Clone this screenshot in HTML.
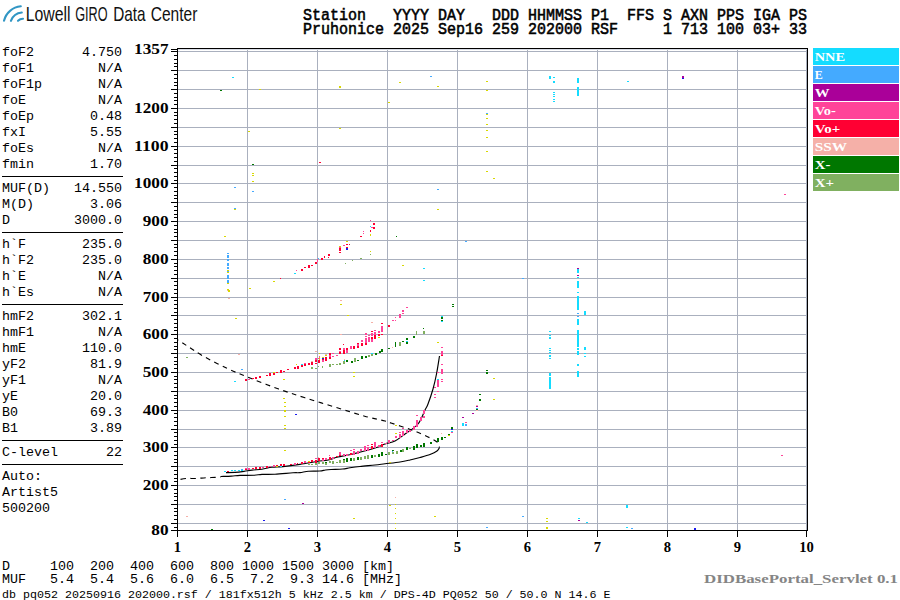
<!DOCTYPE html><html><head><meta charset="utf-8"><style>html,body{margin:0;padding:0;background:#fff;width:900px;height:600px;overflow:hidden}svg{display:block}</style></head><body>
<svg width="900" height="600" viewBox="0 0 900 600" shape-rendering="crispEdges">
<rect x="0" y="0" width="900" height="600" fill="#fff"/>
<g fill="none" stroke="#3196c4" stroke-width="2.1" stroke-linecap="round" shape-rendering="geometricPrecision"><path d="M4,20.8 A19,19 0 0 1 20.8,6.3"/><path d="M10.9,20.8 A13,13 0 0 1 21.8,12.5"/><path d="M18,20.8 A7,7 0 0 1 23,18.8"/></g>
<g font-family="Liberation Sans" font-size="19.8" fill="#111">
<text x="25.7" y="21.2" textLength="44.9" lengthAdjust="spacingAndGlyphs">Lowell</text>
<text x="75.2" y="21.2" textLength="32.4" lengthAdjust="spacingAndGlyphs">GIRO</text>
<text x="113.2" y="21.2" textLength="32.4" lengthAdjust="spacingAndGlyphs">Data</text>
<text x="150.7" y="21.2" textLength="46.7" lengthAdjust="spacingAndGlyphs">Center</text>
</g>
<g font-family="Liberation Mono" font-size="16.3" fill="#000" stroke="#000" stroke-width="0.55">
<text x="303" y="19.6" textLength="504" lengthAdjust="spacingAndGlyphs">Station&#160;&#160;&#160;YYYY&#160;DAY&#160;&#160;&#160;DDD&#160;HHMMSS&#160;P1&#160;&#160;FFS&#160;S&#160;AXN&#160;PPS&#160;IGA&#160;PS</text>
<text x="303" y="33.8" textLength="504" lengthAdjust="spacingAndGlyphs">Pruhonice&#160;2025&#160;Sep16&#160;259&#160;202000&#160;RSF&#160;&#160;&#160;&#160;&#160;1&#160;713&#160;100&#160;03+&#160;33</text>
</g>
<g font-family="Liberation Mono" font-size="13.33" fill="#000" style="white-space:pre">
<text x="2" y="56">foF2</text><text x="122" y="56" text-anchor="end">4.750</text>
<text x="2" y="72">foF1</text><text x="122" y="72" text-anchor="end">N/A</text>
<text x="2" y="88">foF1p</text><text x="122" y="88" text-anchor="end">N/A</text>
<text x="2" y="104">foE</text><text x="122" y="104" text-anchor="end">N/A</text>
<text x="2" y="120">foEp</text><text x="122" y="120" text-anchor="end">0.48</text>
<text x="2" y="136">fxI</text><text x="122" y="136" text-anchor="end">5.55</text>
<text x="2" y="152">foEs</text><text x="122" y="152" text-anchor="end">N/A</text>
<text x="2" y="168">fmin</text><text x="122" y="168" text-anchor="end">1.70</text>
<text x="2" y="192">MUF(D)</text><text x="122" y="192" text-anchor="end">14.550</text>
<text x="2" y="208">M(D)</text><text x="122" y="208" text-anchor="end">3.06</text>
<text x="2" y="224">D</text><text x="122" y="224" text-anchor="end">3000.0</text>
<text x="2" y="248">h`F</text><text x="122" y="248" text-anchor="end">235.0</text>
<text x="2" y="264">h`F2</text><text x="122" y="264" text-anchor="end">235.0</text>
<text x="2" y="280">h`E</text><text x="122" y="280" text-anchor="end">N/A</text>
<text x="2" y="296">h`Es</text><text x="122" y="296" text-anchor="end">N/A</text>
<text x="2" y="320">hmF2</text><text x="122" y="320" text-anchor="end">302.1</text>
<text x="2" y="336">hmF1</text><text x="122" y="336" text-anchor="end">N/A</text>
<text x="2" y="352">hmE</text><text x="122" y="352" text-anchor="end">110.0</text>
<text x="2" y="368">yF2</text><text x="122" y="368" text-anchor="end">81.9</text>
<text x="2" y="384">yF1</text><text x="122" y="384" text-anchor="end">N/A</text>
<text x="2" y="400">yE</text><text x="122" y="400" text-anchor="end">20.0</text>
<text x="2" y="416">B0</text><text x="122" y="416" text-anchor="end">69.3</text>
<text x="2" y="432">B1</text><text x="122" y="432" text-anchor="end">3.89</text>
<text x="2" y="456">C-level</text><text x="122" y="456" text-anchor="end">22</text>
<text x="2" y="480">Auto:</text>
<text x="2" y="496">Artist5</text>
<text x="2" y="512">500200</text>
<text x="2" y="570">D&#160;&#160;&#160;&#160;&#160;100&#160;&#160;200&#160;&#160;400&#160;&#160;600&#160;&#160;800&#160;1000&#160;1500&#160;3000&#160;[km]</text>
<text x="2" y="583">MUF&#160;&#160;&#160;5.4&#160;&#160;5.4&#160;&#160;5.6&#160;&#160;6.0&#160;&#160;6.5&#160;&#160;7.2&#160;&#160;9.3&#160;14.6&#160;[MHz]</text>
</g>
<text x="2" y="597.5" font-family="Liberation Mono" font-size="11.67" fill="#000" style="white-space:pre">db pq052 20250916 202000.rsf / 181fx512h 5 kHz 2.5 km / DPS-4D PQ052 50 / 50.0 N 14.6 E</text>
<rect x="2" y="176" width="121" height="1" fill="#000"/>
<rect x="2" y="232" width="121" height="1" fill="#000"/>
<rect x="2" y="304" width="121" height="1" fill="#000"/>
<rect x="2" y="440" width="121" height="1" fill="#000"/>
<rect x="2" y="464" width="121" height="1" fill="#000"/>
<rect x="178" y="523" width="629" height="1" fill="#aab0be"/>
<rect x="178" y="504" width="629" height="1" fill="#aab0be"/>
<rect x="178" y="485" width="629" height="1" fill="#aab0be"/>
<rect x="178" y="466" width="629" height="1" fill="#aab0be"/>
<rect x="178" y="447" width="629" height="1" fill="#aab0be"/>
<rect x="178" y="429" width="629" height="1" fill="#aab0be"/>
<rect x="178" y="410" width="629" height="1" fill="#aab0be"/>
<rect x="178" y="391" width="629" height="1" fill="#aab0be"/>
<rect x="178" y="372" width="629" height="1" fill="#aab0be"/>
<rect x="178" y="353" width="629" height="1" fill="#aab0be"/>
<rect x="178" y="334" width="629" height="1" fill="#aab0be"/>
<rect x="178" y="315" width="629" height="1" fill="#aab0be"/>
<rect x="178" y="297" width="629" height="1" fill="#aab0be"/>
<rect x="178" y="278" width="629" height="1" fill="#aab0be"/>
<rect x="178" y="259" width="629" height="1" fill="#aab0be"/>
<rect x="178" y="240" width="629" height="1" fill="#aab0be"/>
<rect x="178" y="221" width="629" height="1" fill="#aab0be"/>
<rect x="178" y="202" width="629" height="1" fill="#aab0be"/>
<rect x="178" y="183" width="629" height="1" fill="#aab0be"/>
<rect x="178" y="165" width="629" height="1" fill="#aab0be"/>
<rect x="178" y="146" width="629" height="1" fill="#aab0be"/>
<rect x="178" y="127" width="629" height="1" fill="#aab0be"/>
<rect x="178" y="108" width="629" height="1" fill="#aab0be"/>
<rect x="178" y="89" width="629" height="1" fill="#aab0be"/>
<rect x="178" y="70" width="629" height="1" fill="#aab0be"/>
<rect x="178" y="51" width="629" height="1" fill="#aab0be"/>
<rect x="247" y="49" width="1" height="481" fill="#aab0be"/>
<rect x="317" y="49" width="1" height="481" fill="#aab0be"/>
<rect x="387" y="49" width="1" height="481" fill="#aab0be"/>
<rect x="457" y="49" width="1" height="481" fill="#aab0be"/>
<rect x="527" y="49" width="1" height="481" fill="#aab0be"/>
<rect x="597" y="49" width="1" height="481" fill="#aab0be"/>
<rect x="667" y="49" width="1" height="481" fill="#aab0be"/>
<rect x="737" y="49" width="1" height="481" fill="#aab0be"/>
<rect x="806" y="49" width="1" height="481" fill="#aab0be"/>
<rect x="178" y="49" width="629" height="1" fill="#d8dce5"/>
<g fill="none" stroke="#000" stroke-width="1.15" shape-rendering="geometricPrecision" stroke-linejoin="round">
<path d="M226.00,472.60 C227.50,472.57 232.00,472.60 235.00,472.40 C238.00,472.20 241.17,471.78 244.00,471.40 C246.83,471.02 249.00,470.47 252.00,470.10 C255.00,469.73 258.67,469.67 262.00,469.20 C265.33,468.73 268.50,467.73 272.00,467.30 C275.50,466.87 278.33,467.08 283.00,466.60 C287.67,466.12 294.33,465.25 300.00,464.40 C305.67,463.55 312.28,462.23 317.00,461.50 C321.72,460.77 325.00,460.70 328.30,460.00 C331.60,459.30 333.48,458.13 336.80,457.30 C340.12,456.47 345.50,455.55 348.20,455.00 C350.90,454.45 348.53,455.17 353.00,454.00 C357.47,452.83 369.67,449.67 375.00,448.00 C380.33,446.33 381.67,445.17 385.00,444.00 C388.33,442.83 391.67,442.67 395.00,441.00 C398.33,439.33 401.17,436.83 405.00,434.00 C408.83,431.17 414.67,428.00 418.00,424.00 C421.33,420.00 423.33,413.33 425.00,410.00 C426.67,406.67 426.67,407.50 428.00,404.00 C429.33,400.50 431.58,394.00 433.00,389.00 C434.42,384.00 435.42,379.50 436.50,374.00 C437.58,368.50 439.00,359.00 439.50,356.00"/>
<path d="M221.00,476.50 C222.73,476.43 228.23,476.28 231.40,476.10 C234.57,475.92 236.20,475.55 240.00,475.40 C243.80,475.25 250.53,475.37 254.20,475.20 C257.87,475.03 258.53,474.57 262.00,474.40 C265.47,474.23 269.83,474.47 275.00,474.20 C280.17,473.93 288.83,473.07 293.00,472.80 C297.17,472.53 297.42,472.87 300.00,472.60 C302.58,472.33 305.20,471.47 308.50,471.20 C311.80,470.93 316.97,471.20 319.80,471.00 C322.63,470.80 323.63,470.25 325.50,470.00 C327.37,469.75 328.17,469.67 331.00,469.50 C333.83,469.33 339.33,469.28 342.50,469.00 C345.67,468.72 347.08,468.22 350.00,467.80 C352.92,467.38 355.83,466.97 360.00,466.50 C364.17,466.03 370.83,465.45 375.00,465.00 C379.17,464.55 380.83,464.30 385.00,463.80 C389.17,463.30 395.83,462.63 400.00,462.00 C404.17,461.37 406.67,460.75 410.00,460.00 C413.33,459.25 416.67,458.42 420.00,457.50 C423.33,456.58 427.17,455.58 430.00,454.50 C432.83,453.42 435.42,452.17 437.00,451.00 C438.58,449.83 439.08,448.08 439.50,447.50"/>
<path d="M177.50,480.00 C178.92,479.75 182.92,478.75 186.00,478.50 C189.08,478.25 192.67,478.63 196.00,478.50 C199.33,478.37 202.67,477.88 206.00,477.70 C209.33,477.52 213.50,477.57 216.00,477.40 C218.50,477.23 220.17,476.82 221.00,476.70" stroke-dasharray="5.4 4.5" stroke-dashoffset="6.7"/>
<path d="M439.50,447.50 C439.25,446.75 438.92,444.25 438.00,443.00 C437.08,441.75 436.00,441.17 434.00,440.00 C432.00,438.83 428.83,437.33 426.00,436.00 C423.17,434.67 419.83,433.17 417.00,432.00 C414.17,430.83 411.83,430.00 409.00,429.00 C406.17,428.00 403.00,427.00 400.00,426.00 C397.00,425.00 393.50,423.83 391.00,423.00 C388.50,422.17 389.38,422.13 385.00,421.00 C380.62,419.87 372.53,418.37 364.70,416.20 C356.87,414.03 347.95,411.07 338.00,408.00 C328.05,404.93 315.00,401.00 305.00,397.80 C295.00,394.60 287.17,392.10 278.00,388.80 C268.83,385.50 258.45,381.38 250.00,378.00 C241.55,374.62 235.13,372.17 227.30,368.50 C219.47,364.83 209.60,359.70 203.00,356.00 C196.40,352.30 191.87,348.97 187.70,346.30 C183.53,343.63 179.62,341.05 178.00,340.00" stroke-dasharray="4.8 4.52" stroke-dashoffset="3.72"/>
</g>
<g>
<rect x="441" y="351" width="2" height="4" fill="#ff4499"/>
<rect x="441" y="355" width="2" height="1" fill="#ff0033"/>
<rect x="441" y="364" width="2" height="1" fill="#ff4499"/>
<rect x="441" y="369" width="2" height="5" fill="#ff4499"/>
<rect x="441" y="379" width="2" height="1" fill="#ff4499"/>
<rect x="441" y="381" width="2" height="1" fill="#ff4499"/>
<rect x="437" y="372" width="2" height="1" fill="#ff4499"/>
<rect x="437" y="379" width="2" height="1" fill="#14dcff"/>
<rect x="437" y="380" width="2" height="7" fill="#ff4499"/>
<rect x="437" y="391" width="2" height="1" fill="#ff4499"/>
<rect x="434" y="387" width="2" height="1" fill="#ff4499"/>
<rect x="434" y="394" width="2" height="1" fill="#ff4499"/>
<rect x="434" y="397" width="2" height="1" fill="#ff4499"/>
<rect x="396" y="451" width="2" height="3" fill="#80b060"/>
<rect x="462" y="417" width="2" height="1" fill="#aa0099"/>
<rect x="462" y="423" width="2" height="3" fill="#14dcff"/>
<rect x="465" y="422" width="2" height="1" fill="#ff4499"/>
<rect x="465" y="424" width="2" height="2" fill="#44aaff"/>
<rect x="472" y="413" width="2" height="1" fill="#aa0099"/>
<rect x="476" y="405" width="2" height="1" fill="#f5b0a8"/>
<rect x="476" y="406" width="2" height="1" fill="#aa0099"/>
<rect x="476" y="408" width="2" height="1" fill="#44aaff"/>
<rect x="476" y="409" width="2" height="1" fill="#007700"/>
<rect x="476" y="410" width="2" height="1" fill="#f5b0a8"/>
<rect x="479" y="394" width="2" height="1" fill="#007700"/>
<rect x="479" y="399" width="2" height="2" fill="#007700"/>
<rect x="486" y="370" width="2" height="1" fill="#007700"/>
<rect x="486" y="372" width="2" height="2" fill="#007700"/>
<rect x="493" y="378" width="2" height="1" fill="#d8d800"/>
<rect x="493" y="399" width="2" height="1" fill="#d8d800"/>
<rect x="245" y="379" width="2" height="2" fill="#ff0033"/>
<rect x="248" y="379" width="2" height="1" fill="#ff4499"/>
<rect x="252" y="378" width="2" height="1" fill="#ff0033"/>
<rect x="255" y="377" width="2" height="2" fill="#ff0033"/>
<rect x="259" y="376" width="2" height="2" fill="#ff0033"/>
<rect x="266" y="375" width="2" height="1" fill="#ff0033"/>
<rect x="269" y="373" width="2" height="3" fill="#ff0033"/>
<rect x="273" y="373" width="2" height="2" fill="#ff0033"/>
<rect x="273" y="372" width="2" height="1" fill="#d8d800"/>
<rect x="276" y="372" width="2" height="1" fill="#ff0033"/>
<rect x="280" y="370" width="2" height="3" fill="#ff0033"/>
<rect x="283" y="371" width="2" height="1" fill="#ff0033"/>
<rect x="287" y="369" width="2" height="1" fill="#ff0033"/>
<rect x="294" y="367" width="2" height="2" fill="#ff0033"/>
<rect x="297" y="366" width="2" height="3" fill="#ff0033"/>
<rect x="296" y="364" width="1" height="1" fill="#d8d800"/>
<rect x="340" y="334" width="2" height="1" fill="#f5b0a8"/>
<rect x="347" y="315" width="2" height="1" fill="#d8d800"/>
<rect x="351" y="361" width="2" height="2" fill="#007700"/>
<rect x="354" y="358" width="2" height="4" fill="#80b060"/>
<rect x="357" y="360" width="2" height="1" fill="#007700"/>
<rect x="361" y="356" width="2" height="3" fill="#007700"/>
<rect x="365" y="356" width="2" height="2" fill="#007700"/>
<rect x="368" y="355" width="2" height="2" fill="#80b060"/>
<rect x="371" y="353" width="2" height="1" fill="#14dcff"/>
<rect x="371" y="354" width="2" height="2" fill="#80b060"/>
<rect x="375" y="353" width="2" height="2" fill="#007700"/>
<rect x="379" y="351" width="2" height="2" fill="#007700"/>
<rect x="294" y="273" width="2" height="1" fill="#14dcff"/>
<rect x="296" y="270" width="1" height="1" fill="#ff4499"/>
<rect x="301" y="269" width="2" height="2" fill="#ff0033"/>
<rect x="304" y="267" width="2" height="1" fill="#ff0033"/>
<rect x="308" y="265" width="2" height="3" fill="#ff0033"/>
<rect x="311" y="265" width="2" height="1" fill="#ff0033"/>
<rect x="315" y="262" width="2" height="2" fill="#ff0033"/>
<rect x="317" y="259" width="1" height="3" fill="#ff4499"/>
<rect x="318" y="258" width="1" height="1" fill="#44aaff"/>
<rect x="321" y="258" width="2" height="2" fill="#ff0033"/>
<rect x="324" y="256" width="1" height="2" fill="#ff0033"/>
<rect x="328" y="254" width="2" height="2" fill="#ff0033"/>
<rect x="328" y="257" width="1" height="1" fill="#ff0033"/>
<rect x="339" y="246" width="2" height="1" fill="#d8d800"/>
<rect x="339" y="247" width="2" height="1" fill="#ff4499"/>
<rect x="339" y="248" width="2" height="3" fill="#ff0033"/>
<rect x="339" y="252" width="2" height="1" fill="#ff0033"/>
<rect x="343" y="245" width="2" height="1" fill="#ff4499"/>
<rect x="346" y="244" width="2" height="1" fill="#ff0033"/>
<rect x="346" y="241" width="2" height="1" fill="#d8d800"/>
<rect x="346" y="247" width="2" height="1" fill="#ff0033"/>
<rect x="346" y="248" width="2" height="2" fill="#1a1aee"/>
<rect x="349" y="244" width="1" height="1" fill="#ff0033"/>
<rect x="360" y="236" width="2" height="1" fill="#ff0033"/>
<rect x="363" y="231" width="1" height="1" fill="#ff4499"/>
<rect x="363" y="233" width="1" height="1" fill="#ff4499"/>
<rect x="370" y="230" width="1" height="2" fill="#ff0033"/>
<rect x="370" y="234" width="1" height="2" fill="#d8d800"/>
<rect x="370" y="220" width="1" height="1" fill="#ff4499"/>
<rect x="370" y="226" width="1" height="1" fill="#14dcff"/>
<rect x="371" y="227" width="2" height="1" fill="#ff4499"/>
<rect x="373" y="223" width="2" height="2" fill="#ff0033"/>
<rect x="373" y="227" width="2" height="2" fill="#ff0033"/>
<rect x="370" y="251" width="1" height="1" fill="#d8d800"/>
<rect x="370" y="254" width="1" height="1" fill="#80b060"/>
<rect x="360" y="258" width="2" height="1" fill="#80b060"/>
<rect x="352" y="260" width="1" height="1" fill="#80b060"/>
<rect x="345" y="263" width="1" height="1" fill="#80b060"/>
<rect x="280" y="278" width="1" height="1" fill="#ff0033"/>
<rect x="273" y="281" width="2" height="1" fill="#d8d800"/>
<rect x="549" y="76" width="2" height="3" fill="#14dcff"/>
<rect x="553" y="77" width="2" height="1" fill="#14dcff"/>
<rect x="553" y="81" width="2" height="2" fill="#14dcff"/>
<rect x="553" y="92" width="2" height="1" fill="#14dcff"/>
<rect x="553" y="94" width="2" height="1" fill="#14dcff"/>
<rect x="553" y="96" width="2" height="1" fill="#14dcff"/>
<rect x="553" y="99" width="2" height="1" fill="#14dcff"/>
<rect x="553" y="101" width="2" height="1" fill="#14dcff"/>
<rect x="577" y="78" width="2" height="5" fill="#14dcff"/>
<rect x="577" y="87" width="2" height="9" fill="#14dcff"/>
<rect x="549" y="331" width="2" height="1" fill="#14dcff"/>
<rect x="549" y="335" width="2" height="1" fill="#14dcff"/>
<rect x="549" y="337" width="2" height="2" fill="#14dcff"/>
<rect x="549" y="348" width="2" height="1" fill="#14dcff"/>
<rect x="549" y="350" width="2" height="1" fill="#14dcff"/>
<rect x="549" y="352" width="2" height="1" fill="#14dcff"/>
<rect x="549" y="355" width="2" height="2" fill="#14dcff"/>
<rect x="549" y="358" width="2" height="1" fill="#14dcff"/>
<rect x="549" y="373" width="2" height="3" fill="#14dcff"/>
<rect x="549" y="377" width="2" height="12" fill="#14dcff"/>
<rect x="577" y="268" width="2" height="1" fill="#aa0099"/>
<rect x="577" y="269" width="2" height="4" fill="#14dcff"/>
<rect x="577" y="275" width="2" height="1" fill="#aa0099"/>
<rect x="577" y="277" width="2" height="1" fill="#14dcff"/>
<rect x="577" y="281" width="2" height="7" fill="#14dcff"/>
<rect x="577" y="292" width="2" height="1" fill="#14dcff"/>
<rect x="577" y="296" width="2" height="14" fill="#14dcff"/>
<rect x="577" y="313" width="2" height="1" fill="#44aaff"/>
<rect x="577" y="316" width="2" height="1" fill="#44aaff"/>
<rect x="577" y="319" width="2" height="6" fill="#14dcff"/>
<rect x="577" y="330" width="2" height="17" fill="#14dcff"/>
<rect x="577" y="348" width="2" height="2" fill="#14dcff"/>
<rect x="577" y="351" width="2" height="4" fill="#14dcff"/>
<rect x="577" y="364" width="2" height="2" fill="#14dcff"/>
<rect x="577" y="371" width="2" height="6" fill="#14dcff"/>
<rect x="584" y="311" width="2" height="4" fill="#14dcff"/>
<rect x="584" y="347" width="2" height="3" fill="#14dcff"/>
<rect x="584" y="353" width="2" height="1" fill="#14dcff"/>
<rect x="584" y="356" width="2" height="1" fill="#14dcff"/>
<rect x="627" y="81" width="2" height="1" fill="#14dcff"/>
<rect x="682" y="76" width="2" height="2" fill="#aa0099"/>
<rect x="682" y="78" width="2" height="1" fill="#1a1aee"/>
<rect x="227" y="253" width="2" height="1" fill="#44aaff"/>
<rect x="227" y="255" width="2" height="3" fill="#44aaff"/>
<rect x="227" y="259" width="2" height="2" fill="#44aaff"/>
<rect x="227" y="263" width="2" height="3" fill="#44aaff"/>
<rect x="227" y="267" width="2" height="2" fill="#44aaff"/>
<rect x="227" y="270" width="2" height="1" fill="#d8d800"/>
<rect x="227" y="271" width="2" height="1" fill="#44aaff"/>
<rect x="227" y="272" width="2" height="1" fill="#d8d800"/>
<rect x="227" y="275" width="2" height="4" fill="#44aaff"/>
<rect x="227" y="280" width="2" height="3" fill="#44aaff"/>
<rect x="227" y="283" width="2" height="1" fill="#d8d800"/>
<rect x="227" y="289" width="2" height="1" fill="#d8d800"/>
<rect x="227" y="290" width="2" height="1" fill="#f5b0a8"/>
<rect x="486" y="81" width="2" height="1" fill="#d8d800"/>
<rect x="486" y="90" width="2" height="1" fill="#d8d800"/>
<rect x="486" y="113" width="2" height="1" fill="#44aaff"/>
<rect x="486" y="114" width="2" height="1" fill="#d8d800"/>
<rect x="486" y="118" width="2" height="1" fill="#d8d800"/>
<rect x="486" y="124" width="2" height="1" fill="#d8d800"/>
<rect x="486" y="130" width="2" height="1" fill="#d8d800"/>
<rect x="486" y="137" width="2" height="1" fill="#d8d800"/>
<rect x="486" y="151" width="2" height="1" fill="#d8d800"/>
<rect x="486" y="171" width="2" height="1" fill="#d8d800"/>
<rect x="493" y="178" width="2" height="1" fill="#d8d800"/>
<rect x="283" y="379" width="2" height="1" fill="#d8d800"/>
<rect x="283" y="398" width="2" height="1" fill="#d8d800"/>
<rect x="284" y="402" width="2" height="1" fill="#d8d800"/>
<rect x="284" y="406" width="2" height="1" fill="#d8d800"/>
<rect x="284" y="410" width="2" height="2" fill="#d8d800"/>
<rect x="284" y="416" width="2" height="1" fill="#d8d800"/>
<rect x="284" y="425" width="2" height="1" fill="#d8d800"/>
<rect x="284" y="428" width="2" height="1" fill="#d8d800"/>
<rect x="284" y="450" width="2" height="1" fill="#d8d800"/>
<rect x="284" y="499" width="2" height="1" fill="#44aaff"/>
<rect x="395" y="425" width="2" height="1" fill="#d8d800"/>
<rect x="395" y="433" width="2" height="1" fill="#d8d800"/>
<rect x="395" y="497" width="1" height="1" fill="#f5b0a8"/>
<rect x="395" y="504" width="1" height="1" fill="#d8d800"/>
<rect x="395" y="508" width="1" height="1" fill="#d8d800"/>
<rect x="395" y="513" width="1" height="1" fill="#d8d800"/>
<rect x="395" y="518" width="1" height="1" fill="#d8d800"/>
<rect x="395" y="523" width="1" height="1" fill="#d8d800"/>
<rect x="395" y="528" width="1" height="1" fill="#d8d800"/>
<rect x="389" y="462" width="2" height="1" fill="#d8d800"/>
<rect x="389" y="505" width="2" height="1" fill="#d8d800"/>
<rect x="353" y="518" width="2" height="1" fill="#d8d800"/>
<rect x="434" y="516" width="2" height="1" fill="#d8d800"/>
<rect x="232" y="77" width="2" height="1" fill="#14dcff"/>
<rect x="220" y="90" width="2" height="1" fill="#007700"/>
<rect x="259" y="89" width="2" height="1" fill="#d8d800"/>
<rect x="248" y="131" width="2" height="1" fill="#d8d800"/>
<rect x="252" y="164" width="2" height="1" fill="#007700"/>
<rect x="319" y="162" width="2" height="1" fill="#ff0033"/>
<rect x="339" y="86" width="2" height="2" fill="#d8d800"/>
<rect x="399" y="82" width="2" height="1" fill="#d8d800"/>
<rect x="430" y="76" width="2" height="1" fill="#44aaff"/>
<rect x="437" y="86" width="2" height="1" fill="#d8d800"/>
<rect x="388" y="102" width="2" height="1" fill="#d8d800"/>
<rect x="339" y="128" width="2" height="1" fill="#d8d800"/>
<rect x="252" y="173" width="2" height="1" fill="#d8d800"/>
<rect x="252" y="175" width="2" height="1" fill="#d8d800"/>
<rect x="252" y="181" width="2" height="1" fill="#d8d800"/>
<rect x="234" y="187" width="2" height="1" fill="#44aaff"/>
<rect x="252" y="191" width="2" height="1" fill="#44aaff"/>
<rect x="234" y="208" width="2" height="1" fill="#44aaff"/>
<rect x="234" y="209" width="2" height="1" fill="#d8d800"/>
<rect x="224" y="236" width="2" height="1" fill="#d8d800"/>
<rect x="437" y="189" width="2" height="1" fill="#44aaff"/>
<rect x="437" y="209" width="2" height="1" fill="#d8d800"/>
<rect x="396" y="236" width="1" height="1" fill="#007700"/>
<rect x="465" y="241" width="2" height="1" fill="#44aaff"/>
<rect x="402" y="265" width="2" height="1" fill="#d8d800"/>
<rect x="423" y="268" width="2" height="1" fill="#14dcff"/>
<rect x="423" y="280" width="2" height="1" fill="#14dcff"/>
<rect x="522" y="278" width="2" height="1" fill="#44aaff"/>
<rect x="784" y="194" width="2" height="1" fill="#ff4499"/>
<rect x="228" y="290" width="2" height="2" fill="#d8d800"/>
<rect x="228" y="298" width="2" height="1" fill="#f5b0a8"/>
<rect x="249" y="288" width="2" height="1" fill="#d8d800"/>
<rect x="235" y="318" width="2" height="1" fill="#d8d800"/>
<rect x="186" y="357" width="2" height="1" fill="#80b060"/>
<rect x="238" y="354" width="2" height="1" fill="#f5b0a8"/>
<rect x="241" y="369" width="2" height="1" fill="#44aaff"/>
<rect x="234" y="381" width="2" height="1" fill="#14dcff"/>
<rect x="340" y="300" width="2" height="1" fill="#f5b0a8"/>
<rect x="340" y="304" width="2" height="1" fill="#d8d800"/>
<rect x="353" y="372" width="2" height="1" fill="#d8d800"/>
<rect x="353" y="376" width="2" height="1" fill="#d8d800"/>
<rect x="295" y="414" width="2" height="1" fill="#1a1aee"/>
<rect x="302" y="503" width="2" height="1" fill="#aa0099"/>
<rect x="186" y="516" width="2" height="1" fill="#f5b0a8"/>
<rect x="263" y="520" width="2" height="1" fill="#1a1aee"/>
<rect x="211" y="529" width="2" height="1" fill="#007700"/>
<rect x="288" y="528" width="2" height="1" fill="#1a1aee"/>
<rect x="486" y="527" width="2" height="1" fill="#44aaff"/>
<rect x="522" y="516" width="2" height="1" fill="#44aaff"/>
<rect x="546" y="518" width="2" height="1" fill="#d8d800"/>
<rect x="546" y="521" width="2" height="1" fill="#d8d800"/>
<rect x="546" y="527" width="2" height="2" fill="#d8d800"/>
<rect x="578" y="518" width="2" height="1" fill="#14dcff"/>
<rect x="578" y="520" width="2" height="1" fill="#aa0099"/>
<rect x="586" y="522" width="2" height="1" fill="#14dcff"/>
<rect x="626" y="505" width="2" height="3" fill="#14dcff"/>
<rect x="626" y="527" width="2" height="1" fill="#14dcff"/>
<rect x="631" y="528" width="2" height="1" fill="#44aaff"/>
<rect x="781" y="455" width="2" height="1" fill="#ff4499"/>
<rect x="694" y="528" width="2" height="2" fill="#1a1aee"/>
<rect x="350" y="346" width="2" height="3" fill="#ff4499"/>
<rect x="353" y="346" width="2" height="3" fill="#ff0033"/>
<rect x="357" y="343" width="2" height="1" fill="#ff0033"/>
<rect x="357" y="344" width="2" height="2" fill="#ff4499"/>
<rect x="357" y="346" width="2" height="2" fill="#ff0033"/>
<rect x="361" y="340" width="2" height="2" fill="#ff4499"/>
<rect x="361" y="343" width="2" height="3" fill="#ff0033"/>
<rect x="365" y="333" width="2" height="2" fill="#ff4499"/>
<rect x="365" y="336" width="2" height="1" fill="#ff4499"/>
<rect x="365" y="338" width="2" height="5" fill="#ff4499"/>
<rect x="365" y="343" width="2" height="2" fill="#ff0033"/>
<rect x="368" y="335" width="2" height="1" fill="#ff4499"/>
<rect x="368" y="337" width="2" height="5" fill="#ff4499"/>
<rect x="371" y="331" width="2" height="1" fill="#ff0033"/>
<rect x="371" y="333" width="2" height="3" fill="#ff4499"/>
<rect x="371" y="337" width="2" height="2" fill="#ff0033"/>
<rect x="371" y="339" width="2" height="3" fill="#ff4499"/>
<rect x="374" y="330" width="2" height="1" fill="#ff4499"/>
<rect x="374" y="332" width="2" height="3" fill="#ff4499"/>
<rect x="374" y="335" width="2" height="2" fill="#ff0033"/>
<rect x="374" y="337" width="2" height="2" fill="#ff0033"/>
<rect x="378" y="331" width="2" height="2" fill="#ff4499"/>
<rect x="378" y="334" width="2" height="2" fill="#ff0033"/>
<rect x="378" y="337" width="2" height="1" fill="#d8d800"/>
<rect x="371" y="322" width="2" height="1" fill="#f5b0a8"/>
<rect x="301" y="364" width="2" height="1" fill="#14dcff"/>
<rect x="301" y="365" width="2" height="2" fill="#ff0033"/>
<rect x="304" y="363" width="2" height="1" fill="#ff4499"/>
<rect x="304" y="364" width="2" height="2" fill="#ff0033"/>
<rect x="308" y="363" width="2" height="2" fill="#ff0033"/>
<rect x="311" y="361" width="2" height="1" fill="#f5b0a8"/>
<rect x="311" y="362" width="2" height="3" fill="#ff0033"/>
<rect x="315" y="358" width="2" height="2" fill="#ff4499"/>
<rect x="315" y="360" width="2" height="2" fill="#ff0033"/>
<rect x="315" y="363" width="2" height="1" fill="#ff0033"/>
<rect x="318" y="358" width="2" height="1" fill="#ff4499"/>
<rect x="319" y="359" width="1" height="1" fill="#d8d800"/>
<rect x="318" y="360" width="2" height="3" fill="#ff0033"/>
<rect x="319" y="353" width="1" height="1" fill="#d8d800"/>
<rect x="319" y="356" width="1" height="1" fill="#ff4499"/>
<rect x="319" y="357" width="1" height="1" fill="#d8d800"/>
<rect x="322" y="357" width="2" height="1" fill="#d8d800"/>
<rect x="322" y="358" width="2" height="1" fill="#1a1aee"/>
<rect x="322" y="359" width="2" height="1" fill="#ff0033"/>
<rect x="322" y="360" width="2" height="2" fill="#ff4499"/>
<rect x="325" y="354" width="2" height="1" fill="#f5b0a8"/>
<rect x="325" y="355" width="2" height="1" fill="#d8d800"/>
<rect x="325" y="357" width="2" height="4" fill="#ff0033"/>
<rect x="329" y="353" width="2" height="2" fill="#ff0033"/>
<rect x="329" y="355" width="2" height="2" fill="#ff4499"/>
<rect x="329" y="357" width="2" height="2" fill="#ff0033"/>
<rect x="332" y="353" width="2" height="1" fill="#ff4499"/>
<rect x="332" y="356" width="2" height="1" fill="#ff4499"/>
<rect x="336" y="355" width="2" height="1" fill="#ff4499"/>
<rect x="339" y="348" width="2" height="2" fill="#ff0033"/>
<rect x="339" y="351" width="2" height="1" fill="#ff4499"/>
<rect x="339" y="352" width="2" height="2" fill="#ff0033"/>
<rect x="343" y="344" width="1" height="1" fill="#ff0033"/>
<rect x="343" y="348" width="2" height="2" fill="#ff4499"/>
<rect x="343" y="350" width="2" height="4" fill="#ff0033"/>
<rect x="346" y="348" width="2" height="2" fill="#ff0033"/>
<rect x="346" y="350" width="2" height="3" fill="#ff4499"/>
<rect x="315" y="351" width="2" height="1" fill="#f5b0a8"/>
<rect x="311" y="367" width="2" height="2" fill="#80b060"/>
<rect x="315" y="368" width="2" height="1" fill="#80b060"/>
<rect x="318" y="366" width="1" height="1" fill="#80b060"/>
<rect x="322" y="366" width="1" height="2" fill="#80b060"/>
<rect x="329" y="364" width="2" height="3" fill="#80b060"/>
<rect x="332" y="364" width="2" height="1" fill="#80b060"/>
<rect x="336" y="364" width="2" height="1" fill="#80b060"/>
<rect x="339" y="363" width="2" height="2" fill="#80b060"/>
<rect x="343" y="361" width="2" height="3" fill="#80b060"/>
<rect x="344" y="360" width="1" height="1" fill="#14dcff"/>
<rect x="344" y="359" width="1" height="1" fill="#f5b0a8"/>
<rect x="346" y="360" width="2" height="2" fill="#007700"/>
<rect x="301" y="462" width="2" height="2" fill="#ff0033"/>
<rect x="304" y="461" width="2" height="2" fill="#ff4499"/>
<rect x="308" y="461" width="2" height="1" fill="#d8d800"/>
<rect x="308" y="462" width="2" height="1" fill="#ff0033"/>
<rect x="311" y="460" width="2" height="2" fill="#ff0033"/>
<rect x="315" y="458" width="2" height="1" fill="#ff4499"/>
<rect x="315" y="460" width="2" height="3" fill="#ff0033"/>
<rect x="318" y="457" width="1" height="1" fill="#f5b0a8"/>
<rect x="318" y="458" width="2" height="3" fill="#ff0033"/>
<rect x="322" y="458" width="2" height="1" fill="#ff0033"/>
<rect x="322" y="459" width="2" height="2" fill="#ff4499"/>
<rect x="325" y="458" width="2" height="2" fill="#ff4499"/>
<rect x="329" y="455" width="1" height="1" fill="#ff4499"/>
<rect x="329" y="457" width="2" height="3" fill="#ff0033"/>
<rect x="332" y="457" width="2" height="2" fill="#ff4499"/>
<rect x="336" y="456" width="2" height="1" fill="#ff0033"/>
<rect x="339" y="452" width="2" height="3" fill="#ff4499"/>
<rect x="339" y="455" width="2" height="1" fill="#ff0033"/>
<rect x="343" y="454" width="2" height="2" fill="#ff4499"/>
<rect x="308" y="464" width="2" height="1" fill="#80b060"/>
<rect x="311" y="464" width="2" height="1" fill="#80b060"/>
<rect x="315" y="463" width="2" height="2" fill="#80b060"/>
<rect x="318" y="462" width="2" height="2" fill="#80b060"/>
<rect x="322" y="462" width="2" height="2" fill="#80b060"/>
<rect x="325" y="462" width="2" height="1" fill="#007700"/>
<rect x="325" y="463" width="2" height="2" fill="#80b060"/>
<rect x="329" y="461" width="2" height="2" fill="#80b060"/>
<rect x="332" y="461" width="2" height="3" fill="#80b060"/>
<rect x="336" y="462" width="2" height="1" fill="#80b060"/>
<rect x="339" y="460" width="2" height="3" fill="#80b060"/>
<rect x="343" y="459" width="2" height="1" fill="#007700"/>
<rect x="343" y="460" width="2" height="3" fill="#80b060"/>
<rect x="224" y="471" width="2" height="1" fill="#14dcff"/>
<rect x="227" y="471" width="2" height="1" fill="#ff0033"/>
<rect x="231" y="470" width="2" height="1" fill="#14dcff"/>
<rect x="234" y="470" width="2" height="1" fill="#14dcff"/>
<rect x="238" y="470" width="2" height="1" fill="#14dcff"/>
<rect x="241" y="469" width="2" height="1" fill="#44aaff"/>
<rect x="241" y="470" width="2" height="1" fill="#14dcff"/>
<rect x="245" y="468" width="2" height="1" fill="#ff4499"/>
<rect x="245" y="469" width="2" height="1" fill="#ff0033"/>
<rect x="248" y="468" width="2" height="2" fill="#ff4499"/>
<rect x="252" y="468" width="2" height="1" fill="#ff0033"/>
<rect x="255" y="467" width="2" height="2" fill="#ff0033"/>
<rect x="259" y="467" width="2" height="2" fill="#ff0033"/>
<rect x="262" y="467" width="2" height="1" fill="#ff4499"/>
<rect x="266" y="466" width="2" height="2" fill="#ff0033"/>
<rect x="269" y="466" width="2" height="1" fill="#ff4499"/>
<rect x="273" y="465" width="2" height="2" fill="#ff4499"/>
<rect x="276" y="465" width="2" height="1" fill="#ff0033"/>
<rect x="276" y="466" width="2" height="1" fill="#d8d800"/>
<rect x="280" y="464" width="2" height="2" fill="#ff0033"/>
<rect x="280" y="466" width="2" height="1" fill="#14dcff"/>
<rect x="283" y="464" width="2" height="2" fill="#ff0033"/>
<rect x="290" y="464" width="2" height="1" fill="#ff0033"/>
<rect x="294" y="463" width="2" height="2" fill="#ff4499"/>
<rect x="297" y="463" width="1" height="1" fill="#ff0033"/>
<rect x="346" y="454" width="2" height="2" fill="#ff4499"/>
<rect x="350" y="450" width="2" height="1" fill="#ff4499"/>
<rect x="350" y="453" width="2" height="2" fill="#ff0033"/>
<rect x="353" y="449" width="2" height="1" fill="#ff4499"/>
<rect x="353" y="451" width="2" height="4" fill="#ff4499"/>
<rect x="357" y="451" width="2" height="3" fill="#ff4499"/>
<rect x="360" y="449" width="2" height="2" fill="#ff4499"/>
<rect x="364" y="446" width="2" height="5" fill="#ff4499"/>
<rect x="367" y="445" width="2" height="1" fill="#ff4499"/>
<rect x="367" y="447" width="2" height="4" fill="#ff4499"/>
<rect x="371" y="444" width="2" height="1" fill="#ff0033"/>
<rect x="371" y="446" width="2" height="3" fill="#ff0033"/>
<rect x="374" y="442" width="2" height="6" fill="#ff4499"/>
<rect x="378" y="445" width="2" height="2" fill="#ff4499"/>
<rect x="381" y="442" width="2" height="1" fill="#ff4499"/>
<rect x="381" y="444" width="2" height="3" fill="#ff0033"/>
<rect x="385" y="443" width="2" height="1" fill="#ff4499"/>
<rect x="388" y="440" width="2" height="3" fill="#ff4499"/>
<rect x="392" y="440" width="2" height="1" fill="#ff4499"/>
<rect x="346" y="458" width="2" height="4" fill="#007700"/>
<rect x="350" y="458" width="2" height="3" fill="#007700"/>
<rect x="353" y="458" width="2" height="3" fill="#80b060"/>
<rect x="357" y="457" width="2" height="3" fill="#007700"/>
<rect x="360" y="457" width="2" height="3" fill="#80b060"/>
<rect x="364" y="456" width="2" height="3" fill="#80b060"/>
<rect x="367" y="455" width="2" height="4" fill="#80b060"/>
<rect x="371" y="455" width="2" height="3" fill="#007700"/>
<rect x="374" y="455" width="2" height="2" fill="#80b060"/>
<rect x="378" y="454" width="2" height="3" fill="#007700"/>
<rect x="381" y="452" width="2" height="4" fill="#007700"/>
<rect x="385" y="454" width="2" height="1" fill="#007700"/>
<rect x="388" y="452" width="2" height="3" fill="#80b060"/>
<rect x="392" y="450" width="2" height="1" fill="#007700"/>
<rect x="392" y="451" width="1" height="1" fill="#44aaff"/>
<rect x="392" y="452" width="2" height="2" fill="#80b060"/>
<rect x="395" y="436" width="2" height="2" fill="#ff4499"/>
<rect x="399" y="432" width="2" height="1" fill="#ff4499"/>
<rect x="399" y="434" width="2" height="4" fill="#ff4499"/>
<rect x="402" y="428" width="2" height="1" fill="#ff4499"/>
<rect x="402" y="431" width="2" height="5" fill="#ff4499"/>
<rect x="406" y="430" width="2" height="3" fill="#ff4499"/>
<rect x="409" y="430" width="2" height="2" fill="#ff4499"/>
<rect x="413" y="426" width="2" height="4" fill="#ff4499"/>
<rect x="416" y="415" width="2" height="1" fill="#ff4499"/>
<rect x="416" y="420" width="2" height="7" fill="#ff4499"/>
<rect x="420" y="417" width="2" height="4" fill="#ff4499"/>
<rect x="423" y="410" width="2" height="4" fill="#ff4499"/>
<rect x="423" y="416" width="2" height="2" fill="#ff4499"/>
<rect x="400" y="450" width="2" height="2" fill="#007700"/>
<rect x="402" y="449" width="2" height="3" fill="#80b060"/>
<rect x="406" y="447" width="2" height="3" fill="#007700"/>
<rect x="409" y="448" width="2" height="1" fill="#80b060"/>
<rect x="413" y="446" width="2" height="4" fill="#007700"/>
<rect x="416" y="444" width="2" height="4" fill="#007700"/>
<rect x="420" y="445" width="2" height="2" fill="#007700"/>
<rect x="423" y="443" width="2" height="4" fill="#007700"/>
<rect x="430" y="442" width="2" height="2" fill="#007700"/>
<rect x="437" y="438" width="2" height="4" fill="#007700"/>
<rect x="441" y="437" width="2" height="3" fill="#007700"/>
<rect x="444" y="437" width="2" height="1" fill="#007700"/>
<rect x="448" y="434" width="2" height="1" fill="#007700"/>
<rect x="448" y="435" width="2" height="1" fill="#d8d800"/>
<rect x="451" y="427" width="2" height="2" fill="#007700"/>
<rect x="451" y="429" width="2" height="1" fill="#1a1aee"/>
<rect x="451" y="431" width="2" height="1" fill="#14dcff"/>
<rect x="451" y="432" width="2" height="1" fill="#ff4499"/>
<rect x="441" y="433" width="1" height="1" fill="#f5b0a8"/>
<rect x="381" y="323" width="2" height="1" fill="#ff0033"/>
<rect x="381" y="326" width="2" height="6" fill="#ff4499"/>
<rect x="381" y="334" width="2" height="1" fill="#ff0033"/>
<rect x="388" y="325" width="2" height="2" fill="#ff0033"/>
<rect x="392" y="320" width="2" height="1" fill="#ff4499"/>
<rect x="395" y="317" width="1" height="1" fill="#ff4499"/>
<rect x="395" y="320" width="1" height="1" fill="#ff4499"/>
<rect x="399" y="314" width="2" height="4" fill="#ff4499"/>
<rect x="402" y="310" width="2" height="2" fill="#ff4499"/>
<rect x="402" y="313" width="2" height="1" fill="#ff4499"/>
<rect x="406" y="307" width="2" height="1" fill="#ff4499"/>
<rect x="452" y="304" width="2" height="1" fill="#007700"/>
<rect x="452" y="306" width="2" height="1" fill="#007700"/>
<rect x="441" y="316" width="2" height="1" fill="#14dcff"/>
<rect x="441" y="317" width="2" height="2" fill="#007700"/>
<rect x="441" y="320" width="2" height="1" fill="#007700"/>
<rect x="441" y="321" width="2" height="1" fill="#14dcff"/>
<rect x="423" y="328" width="1" height="1" fill="#007700"/>
<rect x="423" y="331" width="2" height="3" fill="#80b060"/>
<rect x="416" y="331" width="1" height="4" fill="#80b060"/>
<rect x="413" y="336" width="2" height="2" fill="#007700"/>
<rect x="406" y="338" width="2" height="2" fill="#007700"/>
<rect x="406" y="341" width="2" height="1" fill="#14dcff"/>
<rect x="406" y="342" width="2" height="2" fill="#007700"/>
<rect x="402" y="341" width="2" height="1" fill="#007700"/>
<rect x="399" y="342" width="2" height="4" fill="#80b060"/>
<rect x="395" y="342" width="1" height="5" fill="#007700"/>
<rect x="388" y="348" width="2" height="1" fill="#007700"/>
<rect x="392" y="347" width="1" height="1" fill="#f5b0a8"/>
<rect x="381" y="349" width="2" height="3" fill="#007700"/>
<rect x="437" y="342" width="2" height="1" fill="#d8d800"/>
<rect x="441" y="347" width="2" height="1" fill="#ff4499"/>
</g>
<rect x="171" y="530" width="6" height="1" fill="#000"/>
<rect x="174" y="527" width="3" height="1" fill="#000"/>
<rect x="171" y="523" width="6" height="1" fill="#000"/>
<rect x="174" y="519" width="3" height="1" fill="#000"/>
<rect x="174" y="515" width="3" height="1" fill="#000"/>
<rect x="174" y="511" width="3" height="1" fill="#000"/>
<rect x="174" y="508" width="3" height="1" fill="#000"/>
<rect x="171" y="504" width="6" height="1" fill="#000"/>
<rect x="174" y="500" width="3" height="1" fill="#000"/>
<rect x="174" y="496" width="3" height="1" fill="#000"/>
<rect x="174" y="493" width="3" height="1" fill="#000"/>
<rect x="174" y="489" width="3" height="1" fill="#000"/>
<rect x="171" y="485" width="6" height="1" fill="#000"/>
<rect x="174" y="481" width="3" height="1" fill="#000"/>
<rect x="174" y="478" width="3" height="1" fill="#000"/>
<rect x="174" y="474" width="3" height="1" fill="#000"/>
<rect x="174" y="470" width="3" height="1" fill="#000"/>
<rect x="171" y="466" width="6" height="1" fill="#000"/>
<rect x="174" y="462" width="3" height="1" fill="#000"/>
<rect x="174" y="459" width="3" height="1" fill="#000"/>
<rect x="174" y="455" width="3" height="1" fill="#000"/>
<rect x="174" y="451" width="3" height="1" fill="#000"/>
<rect x="171" y="447" width="6" height="1" fill="#000"/>
<rect x="174" y="444" width="3" height="1" fill="#000"/>
<rect x="174" y="440" width="3" height="1" fill="#000"/>
<rect x="174" y="436" width="3" height="1" fill="#000"/>
<rect x="174" y="432" width="3" height="1" fill="#000"/>
<rect x="171" y="429" width="6" height="1" fill="#000"/>
<rect x="174" y="425" width="3" height="1" fill="#000"/>
<rect x="174" y="421" width="3" height="1" fill="#000"/>
<rect x="174" y="417" width="3" height="1" fill="#000"/>
<rect x="174" y="413" width="3" height="1" fill="#000"/>
<rect x="171" y="410" width="6" height="1" fill="#000"/>
<rect x="174" y="406" width="3" height="1" fill="#000"/>
<rect x="174" y="402" width="3" height="1" fill="#000"/>
<rect x="174" y="398" width="3" height="1" fill="#000"/>
<rect x="174" y="395" width="3" height="1" fill="#000"/>
<rect x="171" y="391" width="6" height="1" fill="#000"/>
<rect x="174" y="387" width="3" height="1" fill="#000"/>
<rect x="174" y="383" width="3" height="1" fill="#000"/>
<rect x="174" y="379" width="3" height="1" fill="#000"/>
<rect x="174" y="376" width="3" height="1" fill="#000"/>
<rect x="171" y="372" width="6" height="1" fill="#000"/>
<rect x="174" y="368" width="3" height="1" fill="#000"/>
<rect x="174" y="364" width="3" height="1" fill="#000"/>
<rect x="174" y="361" width="3" height="1" fill="#000"/>
<rect x="174" y="357" width="3" height="1" fill="#000"/>
<rect x="171" y="353" width="6" height="1" fill="#000"/>
<rect x="174" y="349" width="3" height="1" fill="#000"/>
<rect x="174" y="346" width="3" height="1" fill="#000"/>
<rect x="174" y="342" width="3" height="1" fill="#000"/>
<rect x="174" y="338" width="3" height="1" fill="#000"/>
<rect x="171" y="334" width="6" height="1" fill="#000"/>
<rect x="174" y="330" width="3" height="1" fill="#000"/>
<rect x="174" y="327" width="3" height="1" fill="#000"/>
<rect x="174" y="323" width="3" height="1" fill="#000"/>
<rect x="174" y="319" width="3" height="1" fill="#000"/>
<rect x="171" y="315" width="6" height="1" fill="#000"/>
<rect x="174" y="312" width="3" height="1" fill="#000"/>
<rect x="174" y="308" width="3" height="1" fill="#000"/>
<rect x="174" y="304" width="3" height="1" fill="#000"/>
<rect x="174" y="300" width="3" height="1" fill="#000"/>
<rect x="171" y="297" width="6" height="1" fill="#000"/>
<rect x="174" y="293" width="3" height="1" fill="#000"/>
<rect x="174" y="289" width="3" height="1" fill="#000"/>
<rect x="174" y="285" width="3" height="1" fill="#000"/>
<rect x="174" y="281" width="3" height="1" fill="#000"/>
<rect x="171" y="278" width="6" height="1" fill="#000"/>
<rect x="174" y="274" width="3" height="1" fill="#000"/>
<rect x="174" y="270" width="3" height="1" fill="#000"/>
<rect x="174" y="266" width="3" height="1" fill="#000"/>
<rect x="174" y="263" width="3" height="1" fill="#000"/>
<rect x="171" y="259" width="6" height="1" fill="#000"/>
<rect x="174" y="255" width="3" height="1" fill="#000"/>
<rect x="174" y="251" width="3" height="1" fill="#000"/>
<rect x="174" y="247" width="3" height="1" fill="#000"/>
<rect x="174" y="244" width="3" height="1" fill="#000"/>
<rect x="171" y="240" width="6" height="1" fill="#000"/>
<rect x="174" y="236" width="3" height="1" fill="#000"/>
<rect x="174" y="232" width="3" height="1" fill="#000"/>
<rect x="174" y="229" width="3" height="1" fill="#000"/>
<rect x="174" y="225" width="3" height="1" fill="#000"/>
<rect x="171" y="221" width="6" height="1" fill="#000"/>
<rect x="174" y="217" width="3" height="1" fill="#000"/>
<rect x="174" y="214" width="3" height="1" fill="#000"/>
<rect x="174" y="210" width="3" height="1" fill="#000"/>
<rect x="174" y="206" width="3" height="1" fill="#000"/>
<rect x="171" y="202" width="6" height="1" fill="#000"/>
<rect x="174" y="198" width="3" height="1" fill="#000"/>
<rect x="174" y="195" width="3" height="1" fill="#000"/>
<rect x="174" y="191" width="3" height="1" fill="#000"/>
<rect x="174" y="187" width="3" height="1" fill="#000"/>
<rect x="171" y="183" width="6" height="1" fill="#000"/>
<rect x="174" y="180" width="3" height="1" fill="#000"/>
<rect x="174" y="176" width="3" height="1" fill="#000"/>
<rect x="174" y="172" width="3" height="1" fill="#000"/>
<rect x="174" y="168" width="3" height="1" fill="#000"/>
<rect x="171" y="165" width="6" height="1" fill="#000"/>
<rect x="174" y="161" width="3" height="1" fill="#000"/>
<rect x="174" y="157" width="3" height="1" fill="#000"/>
<rect x="174" y="153" width="3" height="1" fill="#000"/>
<rect x="174" y="149" width="3" height="1" fill="#000"/>
<rect x="171" y="146" width="6" height="1" fill="#000"/>
<rect x="174" y="142" width="3" height="1" fill="#000"/>
<rect x="174" y="138" width="3" height="1" fill="#000"/>
<rect x="174" y="134" width="3" height="1" fill="#000"/>
<rect x="174" y="131" width="3" height="1" fill="#000"/>
<rect x="171" y="127" width="6" height="1" fill="#000"/>
<rect x="174" y="123" width="3" height="1" fill="#000"/>
<rect x="174" y="119" width="3" height="1" fill="#000"/>
<rect x="174" y="115" width="3" height="1" fill="#000"/>
<rect x="174" y="112" width="3" height="1" fill="#000"/>
<rect x="171" y="108" width="6" height="1" fill="#000"/>
<rect x="174" y="104" width="3" height="1" fill="#000"/>
<rect x="174" y="100" width="3" height="1" fill="#000"/>
<rect x="174" y="97" width="3" height="1" fill="#000"/>
<rect x="174" y="93" width="3" height="1" fill="#000"/>
<rect x="171" y="89" width="6" height="1" fill="#000"/>
<rect x="174" y="85" width="3" height="1" fill="#000"/>
<rect x="174" y="82" width="3" height="1" fill="#000"/>
<rect x="174" y="78" width="3" height="1" fill="#000"/>
<rect x="174" y="74" width="3" height="1" fill="#000"/>
<rect x="171" y="70" width="6" height="1" fill="#000"/>
<rect x="174" y="66" width="3" height="1" fill="#000"/>
<rect x="174" y="63" width="3" height="1" fill="#000"/>
<rect x="174" y="59" width="3" height="1" fill="#000"/>
<rect x="174" y="55" width="3" height="1" fill="#000"/>
<rect x="171" y="51" width="6" height="1" fill="#000"/>
<rect x="171" y="49" width="6" height="1" fill="#000"/>
<rect x="177" y="48" width="631" height="1" fill="#000"/>
<rect x="177" y="530" width="631" height="1" fill="#000"/>
<rect x="177" y="48" width="1" height="489" fill="#000"/>
<rect x="807" y="48" width="1" height="483" fill="#000"/>
<rect x="247" y="530" width="1" height="7" fill="#000"/>
<rect x="317" y="530" width="1" height="7" fill="#000"/>
<rect x="387" y="530" width="1" height="7" fill="#000"/>
<rect x="457" y="530" width="1" height="7" fill="#000"/>
<rect x="527" y="530" width="1" height="7" fill="#000"/>
<rect x="597" y="530" width="1" height="7" fill="#000"/>
<rect x="667" y="530" width="1" height="7" fill="#000"/>
<rect x="737" y="530" width="1" height="7" fill="#000"/>
<rect x="806" y="530" width="1" height="7" fill="#000"/>
<g font-family="Liberation Serif" font-weight="bold" font-size="14.6" fill="#000" text-anchor="end">
<text x="168.5" y="535.3" textLength="17.2" lengthAdjust="spacingAndGlyphs">80</text>
<text x="168.5" y="490.3" textLength="25.8" lengthAdjust="spacingAndGlyphs">200</text>
<text x="168.5" y="452.3" textLength="25.8" lengthAdjust="spacingAndGlyphs">300</text>
<text x="168.5" y="415.3" textLength="25.8" lengthAdjust="spacingAndGlyphs">400</text>
<text x="168.5" y="377.3" textLength="25.8" lengthAdjust="spacingAndGlyphs">500</text>
<text x="168.5" y="339.3" textLength="25.8" lengthAdjust="spacingAndGlyphs">600</text>
<text x="168.5" y="302.3" textLength="25.8" lengthAdjust="spacingAndGlyphs">700</text>
<text x="168.5" y="264.3" textLength="25.8" lengthAdjust="spacingAndGlyphs">800</text>
<text x="168.5" y="226.3" textLength="25.8" lengthAdjust="spacingAndGlyphs">900</text>
<text x="168.5" y="188.3" textLength="34.4" lengthAdjust="spacingAndGlyphs">1000</text>
<text x="168.5" y="151.3" textLength="34.4" lengthAdjust="spacingAndGlyphs">1100</text>
<text x="168.5" y="113.3" textLength="34.4" lengthAdjust="spacingAndGlyphs">1200</text>
<text x="168.5" y="54.3" textLength="34.4" lengthAdjust="spacingAndGlyphs">1357</text>
</g>
<g font-family="Liberation Serif" font-weight="bold" font-size="14.6" fill="#000" text-anchor="middle">
<text x="177.5" y="552.3">1</text>
<text x="247.5" y="552.3">2</text>
<text x="317.5" y="552.3">3</text>
<text x="387.5" y="552.3">4</text>
<text x="457.5" y="552.3">5</text>
<text x="527.5" y="552.3">6</text>
<text x="597.5" y="552.3">7</text>
<text x="667.5" y="552.3">8</text>
<text x="737.5" y="552.3">9</text>
<text x="806.5" y="552.3">10</text>
</g>
<rect x="813" y="48" width="86" height="17" fill="#14dcff"/>
<text x="814.7" y="60.8" font-family="Liberation Serif" font-weight="bold" font-size="13" fill="#fff" textLength="30.3" lengthAdjust="spacingAndGlyphs">NNE</text>
<rect x="813" y="66" width="86" height="17" fill="#44aaff"/>
<text x="814.7" y="78.8" font-family="Liberation Serif" font-weight="bold" font-size="13" fill="#fff" textLength="8" lengthAdjust="spacingAndGlyphs">E</text>
<rect x="813" y="84" width="86" height="17" fill="#aa0099"/>
<text x="814.7" y="96.8" font-family="Liberation Serif" font-weight="bold" font-size="13" fill="#fff" textLength="14.8" lengthAdjust="spacingAndGlyphs">W</text>
<rect x="813" y="102" width="86" height="17" fill="#ff4499"/>
<text x="814.7" y="114.8" font-family="Liberation Serif" font-weight="bold" font-size="13" fill="#fff" textLength="21.2" lengthAdjust="spacingAndGlyphs">Vo-</text>
<rect x="813" y="120" width="86" height="17" fill="#ff0033"/>
<text x="814.7" y="132.8" font-family="Liberation Serif" font-weight="bold" font-size="13" fill="#fff" textLength="25.5" lengthAdjust="spacingAndGlyphs">Vo+</text>
<rect x="813" y="138" width="86" height="17" fill="#f5b0a8"/>
<text x="814.7" y="150.8" font-family="Liberation Serif" font-weight="bold" font-size="13" fill="#fff" textLength="32.3" lengthAdjust="spacingAndGlyphs">SSW</text>
<rect x="813" y="156" width="86" height="17" fill="#007700"/>
<text x="814.7" y="168.8" font-family="Liberation Serif" font-weight="bold" font-size="13" fill="#fff" textLength="15.7" lengthAdjust="spacingAndGlyphs">X-</text>
<rect x="813" y="174" width="86" height="17" fill="#80b060"/>
<text x="814.7" y="186.8" font-family="Liberation Serif" font-weight="bold" font-size="13" fill="#fff" textLength="19.3" lengthAdjust="spacingAndGlyphs">X+</text>
<text x="704" y="582.8" font-family="Liberation Serif" font-weight="bold" font-size="13.4" fill="#858585" textLength="194" lengthAdjust="spacingAndGlyphs">DIDBasePortal_Servlet 0.1</text>
</svg></body></html>
